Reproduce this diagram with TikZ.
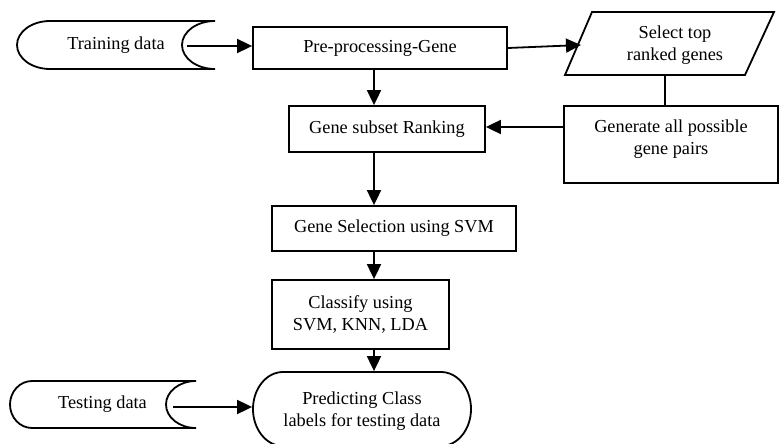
\documentclass[tikz,border=0pt]{standalone}
\usepackage{fontspec}
\setmainfont{Liberation Serif}
\usetikzlibrary{arrows.meta}
\begin{document}
\begin{tikzpicture}[x=1pt,y=-1pt,
  line width=1.8pt,
  txt/.style={inner sep=0pt, font=\fontsize{18.3}{21.5}\selectfont, align=center},
  box/.style={txt, draw, rectangle},
  arr/.style={-{Triangle[length=15pt,width=14pt]}},
]
\useasboundingbox (0,0) rectangle (779,444);

% shapes drawn directly
\draw (215,21) -- (50,21) .. controls (31.8,21) and (17,31.7) .. (17,45)
  .. controls (17,58.3) and (31.8,69) .. (50,69) -- (215,69)
  .. controls (196.8,69) and (182,58.3) .. (182,45)
  .. controls (182,31.7) and (196.8,21) .. (215,21);
\draw (196,381) -- (32,381) .. controls (19.9,381) and (10,391.5) .. (10,404.5)
  .. controls (10,417.5) and (19.9,428) .. (32,428) -- (196,428)
  .. controls (179.4,428) and (166,417.5) .. (166,404.5)
  .. controls (166,391.5) and (179.4,381) .. (196,381);
\draw (565,75) -- (592,12) -- (774,12) -- (745,75) -- cycle;
\draw (283,372) -- (441,372) .. controls (457.6,372) and (471,388.6) .. (471,409)
  .. controls (471,429.4) and (457.6,446) .. (441,446) -- (283,446)
  .. controls (266.4,446) and (253,429.4) .. (253,409)
  .. controls (253,388.6) and (266.4,372) .. (283,372) -- cycle;

% nodes
\node[txt, minimum width=198pt, minimum height=48pt] (train) at (116,45) {Training data};
\node[txt, minimum width=186pt, minimum height=47pt] (test) at (102.5,404.5) {Testing data};
\node[box, minimum width=254pt, minimum height=42pt] (pre) at (380,48) {Pre-processing-Gene};
\node[txt] (sel) at (675,45) {Select top\\ranked genes};
\node[box, minimum width=214pt, minimum height=77pt] (gen) at (671,144.5) {};
\node[txt] (gentext) at (671,139) {Generate all possible\\gene pairs};
\node[box, minimum width=196pt, minimum height=46pt] (rank) at (387,129) {Gene subset Ranking};
\node[box, minimum width=244pt, minimum height=45pt] (gsel) at (394,228.5) {Gene Selection using SVM};
\node[box, minimum width=177pt, minimum height=69pt] (cls) at (360.5,314.5) {Classify using\\SVM, KNN, LDA};
\node[txt, minimum width=218pt, minimum height=74pt] (pred) at (362,409) {};
\node[txt] (predtext) at (362,411) {Predicting Class\\labels for testing data};

% coordinates
\coordinate (spine) at (374,0);
\coordinate (trainout) at (187,46);
\coordinate (testout) at (173,407);
\coordinate (selin) at (581,45);
\coordinate (selbot) at (665,75);
\coordinate (genout) at (564,127);

% connectors
\draw[arr] (trainout) -- (pre.west |- trainout);
\draw[arr] (pre.east) -- (selin);
\draw (selbot) -- (gen.north -| selbot);
\draw[arr] (genout) -- (rank.east |- genout);
\draw[arr] (pre.south -| spine) -- (rank.north -| spine);
\draw[arr] (rank.south -| spine) -- (gsel.north -| spine);
\draw[arr] (gsel.south -| spine) -- (cls.north -| spine);
\draw[arr] (cls.south -| spine) -- (pred.north -| spine);
\draw[arr] (testout) -- (pred.west |- testout);
\end{tikzpicture}
\end{document}
